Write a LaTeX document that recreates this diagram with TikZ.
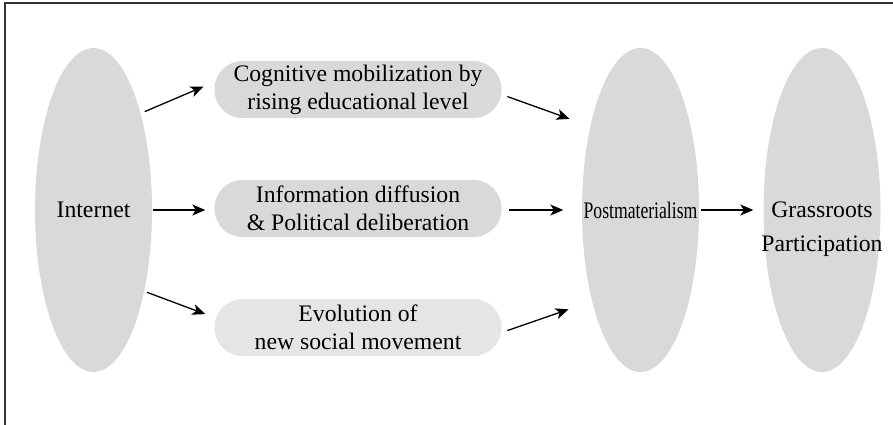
\documentclass[tikz,border=0pt]{standalone}
\usepackage{fontspec}
\setmainfont{Liberation Serif}
\usepackage{graphicx}
\usetikzlibrary{shapes.geometric,arrows.meta}

\tikzset{
  oval/.style={ellipse,fill=gray!30,minimum width=117pt,minimum height=324pt,inner sep=0pt},
  pill/.style={rectangle,rounded corners=28pt,fill=gray!30,minimum width=287pt,minimum height=57pt,
    inner sep=2pt,align=center},
  arr/.style={-{Stealth[length=13pt,width=11pt,inset=3.5pt]},line width=1.3pt},
  every node/.style={font=\fontsize{23.7}{28}\selectfont}
}

\begin{document}
\begin{tikzpicture}[x=1pt,y=-1pt]
      \useasboundingbox (0,0) rectangle (893,425);
      \draw[line width=1.2pt,black!80] (893,3)--(5,3)--(5,425);

      \node[oval] (internet) at (93.5,210) {Internet};
      \node[pill] (cog) at (358,89.5) {Cognitive mobilization by\\rising educational level};
      \node[pill] (info) at (358,208.5) {Information diffusion\\\& Political deliberation};
      \node[pill,fill=gray!20] (evol) at (358,327.5) {Evolution of\\new social movement};
      \node[oval] (post) at (640.5,210) {\makebox[0pt]{\scalebox{0.745}[1]{Postmaterialism}}};
      \node[oval] (grass) at (822,210) {};
      \node[align=center,inner sep=0pt] (grasstext) at ([yshift=-19.6pt]grass.center) {Grassroots\\[6pt]Participation};

      \draw[arr, shorten <=4.5pt, shorten >=11.8pt] (internet.64.3)--(cog.177.7);
      \draw[arr, shorten <=0.5pt, shorten >=9pt] (internet.east)--(internet.east -| info.west);
      \draw[arr, shorten <=2.8pt, shorten >=9.6pt] (internet.-58.4)--(evol.176.3);

      \draw[arr, shorten <=6pt, shorten >=22pt] (cog.-2.6)--(post.121.8);
      \draw[arr, shorten <=7.5pt, shorten >=18.5pt] (post.west -| info.east)--(post.west);
      \draw[arr, shorten <=6pt, shorten >=24.8pt] (evol.-2.2)--(post.-118.2);

      \draw[arr, shorten <=1.5pt, shorten >=10pt] (post.east)--(grass.west);
    \end{tikzpicture}
\end{document}
